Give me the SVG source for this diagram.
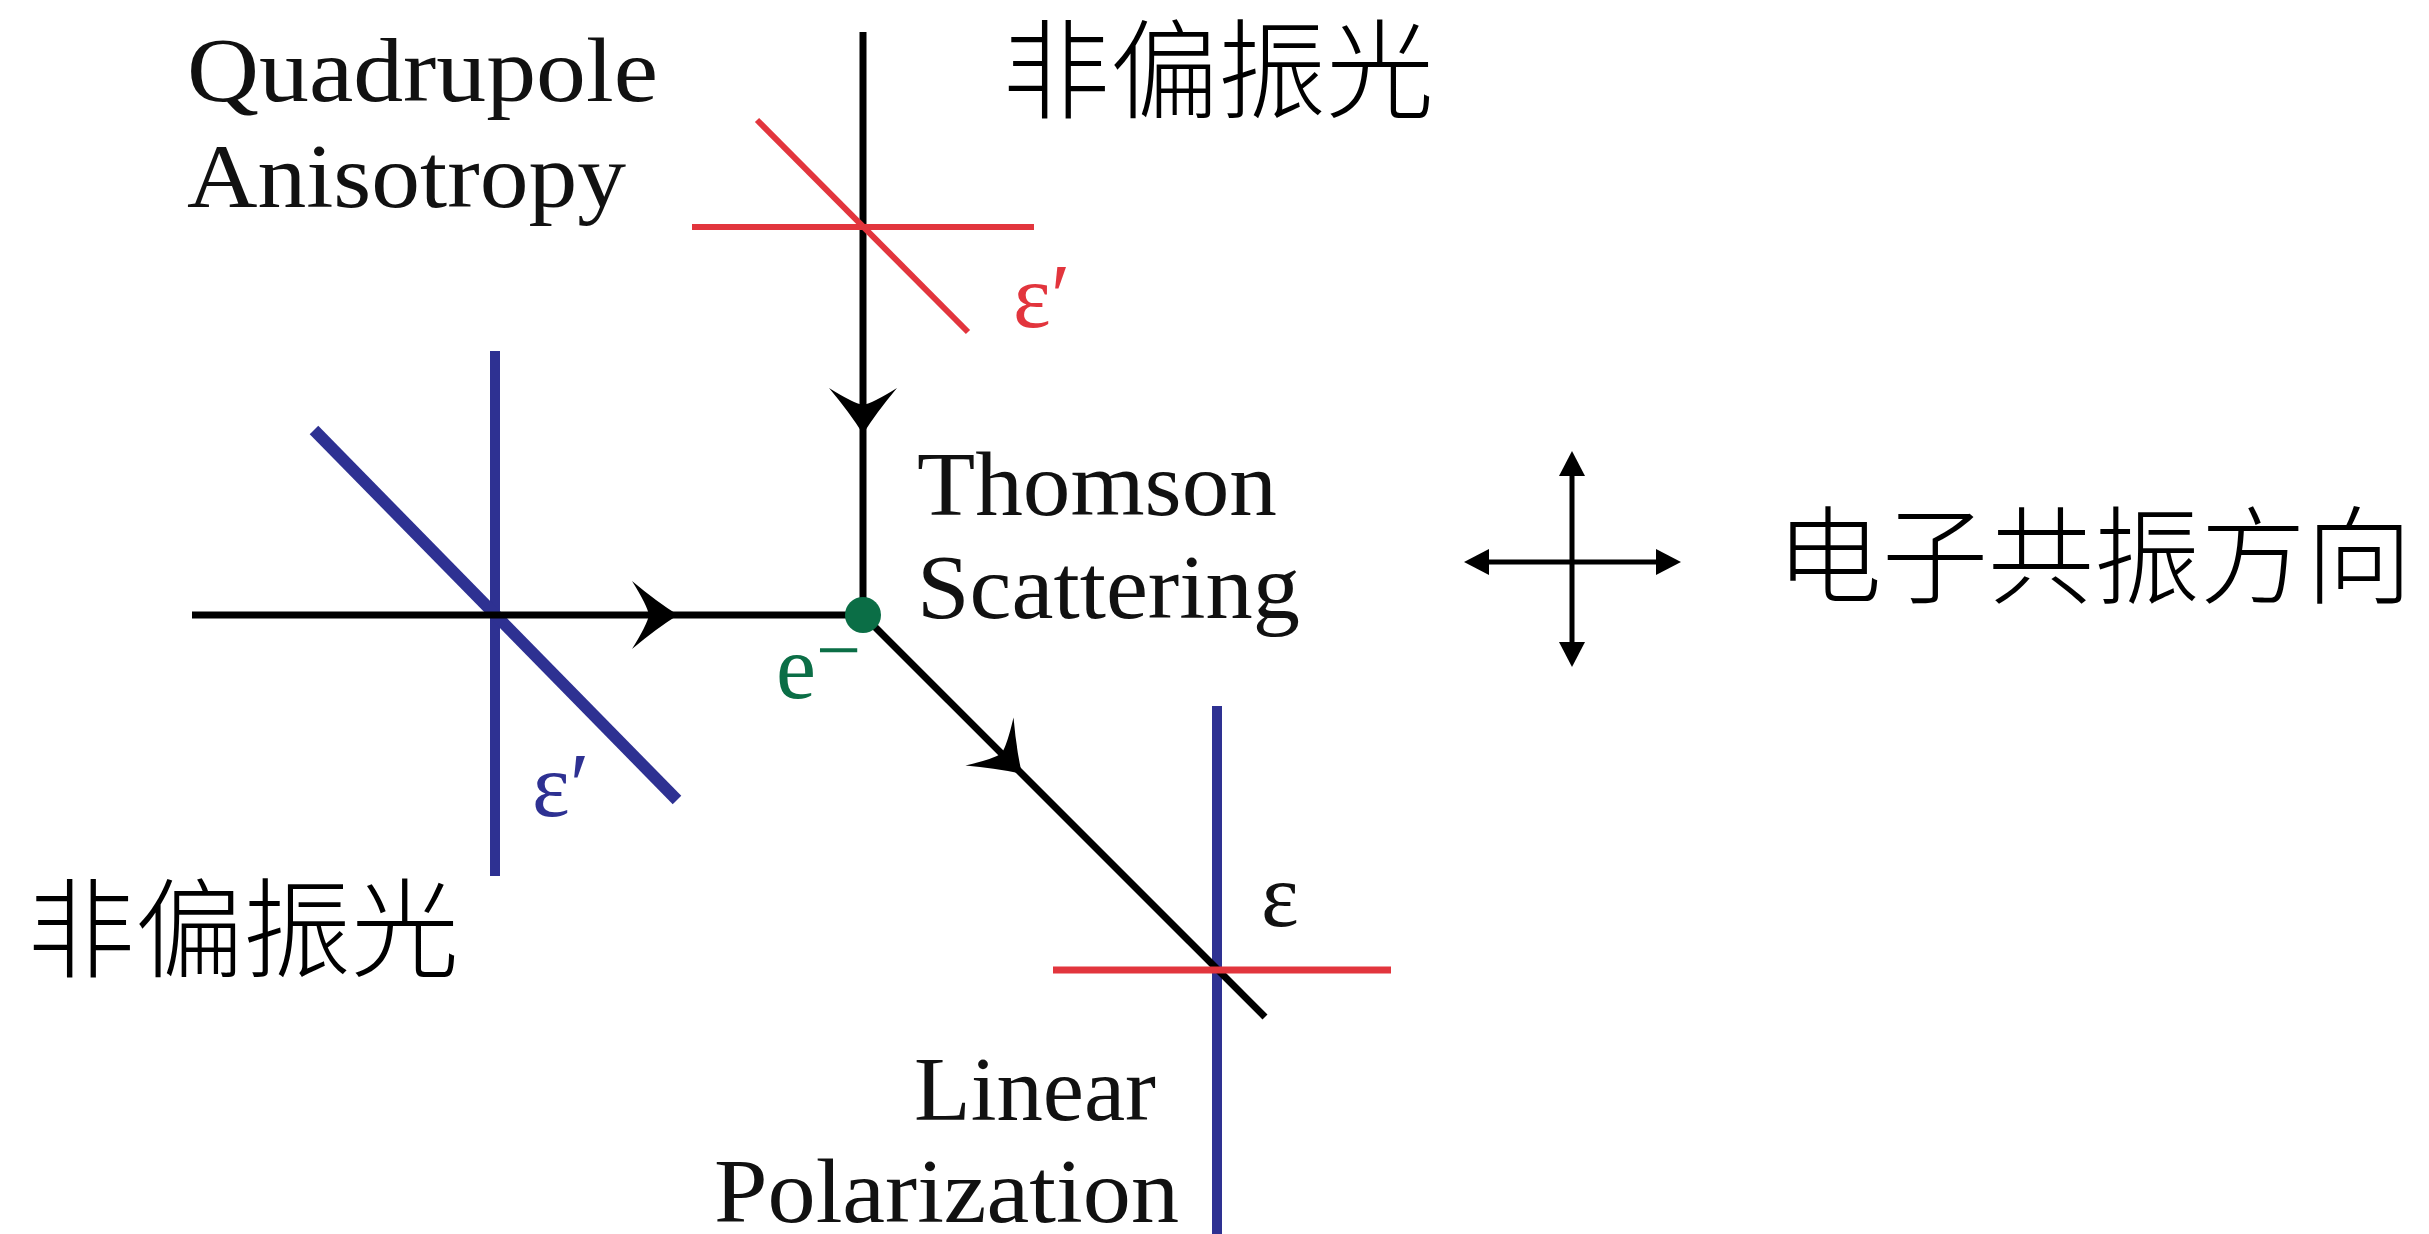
<svg xmlns="http://www.w3.org/2000/svg" xmlns:xlink="http://www.w3.org/1999/xlink" width="2429" height="1234" viewBox="0 0 2429 1234">
<style>
.serif{font-family:"Liberation Serif","DejaVu Serif",serif;font-size:90px;fill:#111}
.cjk{font-family:"Noto Sans CJK SC","Noto Sans",sans-serif;font-weight:300;fill:#000}
.ray{stroke:#000;stroke-width:7;fill:none}
.red{stroke:#e2353d;stroke-width:6;fill:none}
.blue{stroke:#2e3192;stroke-width:10;fill:none}
.axis{stroke:#000;stroke-width:5;fill:none}
</style>
<defs>
<path id="barb" d="M0,0 Q-21,-13 -46,-34 Q-31,-10 -29,0 Q-31,10 -46,34 Q-21,13 0,0 Z" fill="#000"/>
<path id="tri" d="M0,0 L-25,-13 L-25,13 Z" fill="#000"/>
</defs>
<rect width="2429" height="1234" fill="#fff"/>

<g id="incident-left-polarizer">
<line class="blue" x1="495" y1="351" x2="495" y2="876"/>
<line class="blue" style="stroke-width:12" x1="314" y1="430" x2="677" y2="800"/>
<text class="serif" x="532" y="816" style="fill:#2e3192">ε′</text>
</g>

<g id="outgoing-polarizer-blue">
<line class="blue" x1="1217" y1="706" x2="1217" y2="1234"/>
</g>

<g id="connectors">
<line class="ray" x1="863" y1="32" x2="863" y2="615"/>
<line class="ray" x1="192" y1="615" x2="863" y2="615"/>
<line class="ray" x1="863" y1="615" x2="1265" y2="1017"/>
<use xlink:href="#barb" href="#barb" transform="translate(863,434) rotate(90)"/>
<use xlink:href="#barb" href="#barb" transform="translate(678,615)"/>
<use xlink:href="#barb" href="#barb" transform="translate(1022,774) rotate(45)"/>
</g>

<g id="incident-top-polarizer">
<line class="red" x1="692" y1="227" x2="1034" y2="227"/>
<line class="red" x1="757" y1="120" x2="968" y2="332"/>
<text class="serif" x="1013" y="327" style="fill:#e2353d">ε′</text>
</g>

<g id="outgoing-polarizer-red">
<line class="red" style="stroke-width:7" x1="1053" y1="970" x2="1391" y2="970"/>
<text class="serif" x="1261" y="926">ε</text>
</g>

<g id="electron">
<circle cx="863" cy="615" r="18" fill="#0b6e46"/>
<text class="serif" x="776" y="698" style="fill:#0b6e46">e<tspan x="816" y="677" font-size="80">−</tspan></text>
</g>

<g id="label-quadrupole">
<text class="serif" x="187" y="101" textLength="471" lengthAdjust="spacingAndGlyphs">Quadrupole</text>
<text class="serif" x="187" y="207" textLength="439" lengthAdjust="spacingAndGlyphs">Anisotropy</text>
</g>

<g id="label-thomson">
<text class="serif" x="917" y="515" textLength="360" lengthAdjust="spacingAndGlyphs">Thomson</text>
<text class="serif" x="917" y="618" textLength="383" lengthAdjust="spacingAndGlyphs">Scattering</text>
</g>

<g id="label-linear">
<text class="serif" x="914" y="1120" textLength="242" lengthAdjust="spacingAndGlyphs">Linear</text>
<text class="serif" x="714" y="1222" textLength="465" lengthAdjust="spacingAndGlyphs">Polarization</text>
</g>

<g id="label-unpolarized-top">
<text class="cjk" x="1002" y="110" font-size="108">非偏振光</text>
</g>

<g id="label-unpolarized-left">
<text class="cjk" x="27" y="969" font-size="108">非偏振光</text>
</g>

<g id="oscillation-cross">
<line class="axis" x1="1572" y1="470" x2="1572" y2="647"/>
<line class="axis" x1="1484" y1="562" x2="1661" y2="562"/>
<use xlink:href="#tri" href="#tri" transform="translate(1572,451) rotate(-90)"/>
<use xlink:href="#tri" href="#tri" transform="translate(1572,667) rotate(90)"/>
<use xlink:href="#tri" href="#tri" transform="translate(1464,562) rotate(180)"/>
<use xlink:href="#tri" href="#tri" transform="translate(1681,562)"/>
</g>

<g id="label-oscillation">
<text class="cjk" x="1776" y="595" font-size="106">电子共振方向</text>
</g>
</svg>
